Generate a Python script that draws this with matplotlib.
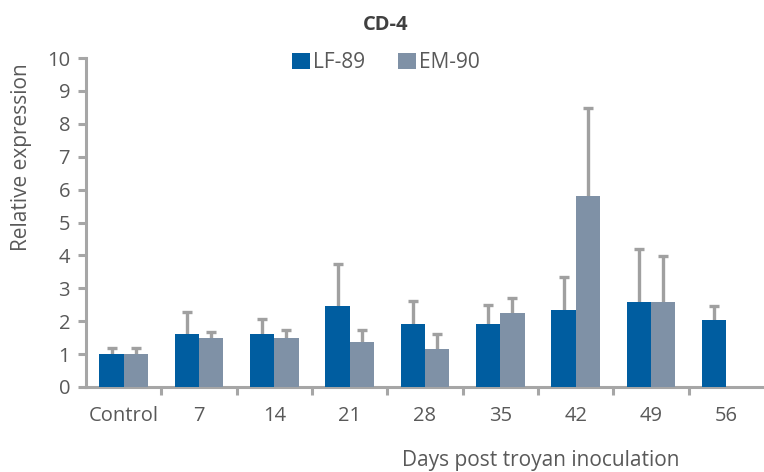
import numpy as np
import matplotlib.pyplot as plt

plt.rcParams['font.family'] = ['Open Sans', 'DejaVu Sans']

categories = ['Control', '7', '14', '21', '28', '35', '42', '49', '56']
lf89 = [1.0, 1.6, 1.6, 2.45, 1.93, 1.93, 2.35, 2.57, 2.04]
lf89_err = [0.2, 0.67, 0.47, 1.28, 0.67, 0.55, 1.0, 1.63, 0.41]
em90 = [1.0, 1.5, 1.5, 1.38, 1.17, 2.25, 5.82, 2.57, np.nan]
em90_err = [0.2, 0.17, 0.22, 0.35, 0.43, 0.45, 2.65, 1.4, np.nan]

grey = '#595959'
axis_grey = '#a6a6a6'
err_grey = '#a0a0a0'

fig = plt.figure(figsize=(7.64, 4.72), dpi=100)
ax = fig.add_axes([86 / 764, 85 / 472, 678 / 764, 329 / 472])

x = np.arange(len(categories))
w = 0.323


def bars_with_err(xs, vals, errs, color, label):
    vals = np.array(vals)
    errs = np.array(errs)
    ok = ~np.isnan(vals)
    ax.bar(xs[ok], vals[ok], w, color=color, label=label, zorder=3)
    _, caps, _ = ax.errorbar(xs[ok], vals[ok], yerr=[np.zeros(ok.sum()), errs[ok]],
                             fmt='none', ecolor=err_grey, elinewidth=2.4,
                             capsize=3.8, capthick=2.4, zorder=2)
    # only keep the upper cap
    caps[0].set_visible(False)


bars_with_err(x - w / 2, lf89, lf89_err, '#005da0', 'LF-89')
bars_with_err(x + w / 2, em90, em90_err, '#7f91a6', 'EM-90')

ax.set_xlim(-0.5, len(categories) - 0.5)
ax.set_ylim(0, 10)
ax.set_yticks(range(0, 11))

# ticks marks at category boundaries, labels at centres
ax.set_xticks(x[:-1] + 0.5)
ax.set_xticklabels([])
ax.set_xticks(x, minor=True)
ax.set_xticklabels(categories, minor=True)
ax.tick_params(axis='x', which='minor', length=0, pad=14, labelsize=14.5, labelcolor=grey)
ax.tick_params(axis='x', which='major', length=5.5, width=2.2, color=axis_grey, direction='out')
ax.tick_params(axis='y', length=5.5, width=2.2, color=axis_grey, labelsize=14.5,
               labelcolor=grey, pad=6)

for s in ['top', 'right']:
    ax.spines[s].set_visible(False)
for s in ['left', 'bottom']:
    ax.spines[s].set_color(axis_grey)
    ax.spines[s].set_linewidth(2.2)

ax.set_ylabel('Relative expression', fontsize=15, color=grey)
ax.yaxis.set_label_coords(-0.08, 0.70)
ax.set_xlabel('Days post troyan inoculation', fontsize=15, color=grey)
ax.xaxis.set_label_coords(0.671, -0.19)

fig.text(0.505, 0.946, 'CD-4', ha='center', va='center', fontsize=14.5,
         fontweight='bold', color='#404040')
fig.legend(loc='center', bbox_to_anchor=(0.505, 0.867), ncol=2, frameon=False,
           fontsize=15, labelcolor=grey, handlelength=0.85, handleheight=0.85,
           handletextpad=0.15, columnspacing=1.6, borderaxespad=0)

fig.savefig('out.png', dpi=100)
